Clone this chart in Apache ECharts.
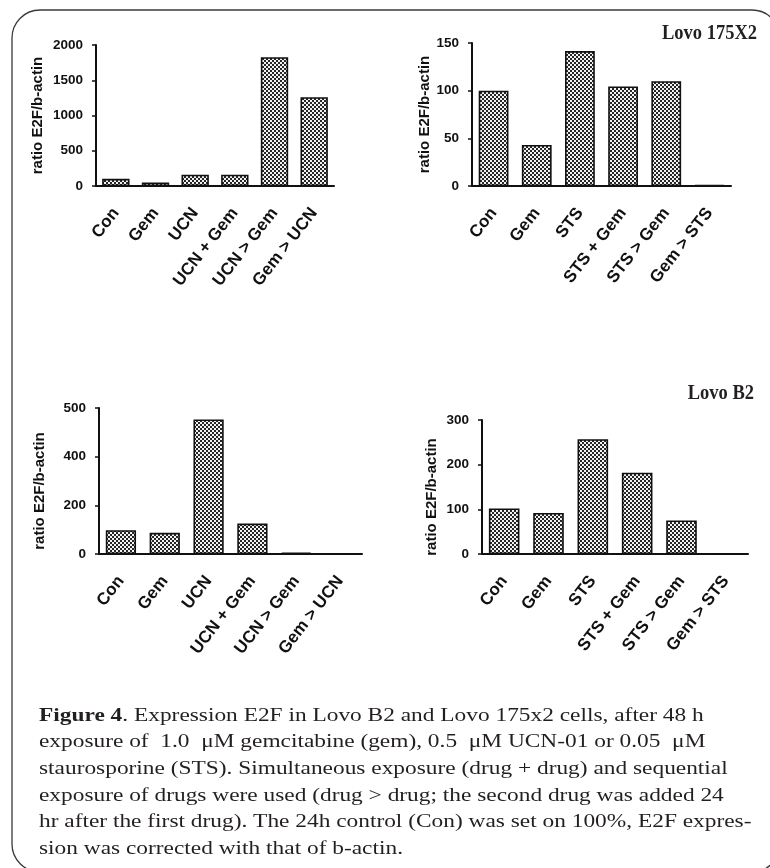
<!DOCTYPE html>
<html><head><meta charset="utf-8">
<script src="https://cdn.jsdelivr.net/npm/echarts@6/dist/echarts.min.js"></script>
<style>html,body{margin:0;padding:0;background:#fff}#c{width:770px;height:868px}</style>
</head><body><div id="c"></div>
<script>
// ---- data ----
const catsUCN = ['Con', 'Gem', 'UCN', 'UCN + Gem', 'UCN > Gem', 'Gem > UCN'];
const catsSTS = ['Con', 'Gem', 'STS', 'STS + Gem', 'STS > Gem', 'Gem > STS'];
const valsTL = [102, 50, 160, 160, 1826, 1260];
const valsTR = [100, 43, 141.5, 104.5, 110, 1];
const valsBL = [98, 87, 553, 125, 5, 2];
const valsBR = [102, 92, 257, 182, 75, 1];
const ticksTL = [0, 500, 1000, 1500, 2000];
const ticksTR = [0, 50, 100, 150];
const ticksBL = [0, 200, 400, 600];
const tickLabelsBL = ['0', '200', '400', '500'];
const ticksBR = [0, 100, 200, 300];
const yName = 'ratio E2F/b-actin';
const titleTop = 'Lovo 175X2';
const titleBottom = 'Lovo B2';
const captionLines = [
  '{b|Figure 4}. Expression E2F in Lovo B2 and Lovo 175x2 cells, after 48 h',
  'exposure of  1.0  \u03bcM gemcitabine (gem), 0.5  \u03bcM UCN-01 or 0.05  \u03bcM',
  'staurosporine (STS). Simultaneous exposure (drug + drug) and sequential',
  'exposure of drugs were used (drug > drug; the second drug was added 24',
  'hr after the first drug). The 24h control (Con) was set on 100%, E2F expres-',
  'sion was corrected with that of b-actin.'
];

// ---- pattern ----
const pc = document.createElement('canvas');
pc.width = 4; pc.height = 4;
const px = pc.getContext('2d');
px.fillStyle = '#f2f2f2'; px.fillRect(0, 0, 4, 4);
px.fillStyle = '#262626'; px.fillRect(0, 0, 2, 2); px.fillRect(2, 2, 2, 2);
const pattern = { image: pc, repeat: 'repeat' };

// caption horizontal scale from measured width
const mc = document.createElement('canvas').getContext('2d');
const capFont = 18;
mc.font = capFont + 'px "Liberation Serif"';
const capScale = 364 / mc.measureText(captionLines[5]).width;

const grids = [
  { left: 96, top: 45, width: 238, height: 141 },
  { left: 472, top: 43, width: 259, height: 143 },
  { left: 99, top: 408, width: 263, height: 146 },
  { left: 482, top: 420, width: 266, height: 134 }
];
const setups = [
  { cats: catsUCN, vals: valsTL, ticks: ticksTL, labels: null, gap: 51, pad: 0 },
  { cats: catsSTS, vals: valsTR, ticks: ticksTR, labels: null, gap: 38, pad: 0 },
  { cats: catsUCN, vals: valsBL, ticks: ticksBL, labels: tickLabelsBL, gap: 52, pad: 20 },
  { cats: catsSTS, vals: valsBR, ticks: ticksBR, labels: null, gap: 43, pad: 20 }
];
const xAxes = [], yAxes = [], series = [];
setups.forEach((s, i) => {
  xAxes.push({
    type: 'category', gridIndex: i, data: s.cats,
    axisLine: { lineStyle: { color: '#111', width: 2 } },
    axisTick: { alignWithLabel: true, length: 5, lineStyle: { color: '#111', width: 1.5 } },
    axisLabel: { interval: 0, rotate: 52, margin: 24, color: '#111', fontFamily: 'Liberation Sans', fontWeight: 'bold', fontSize: 17 }
  });
  const tk = s.ticks;
  yAxes.push({
    type: 'value', gridIndex: i, min: tk[0], max: tk[tk.length - 1], interval: tk[1] - tk[0],
    name: yName, nameLocation: 'middle', nameGap: s.gap,
    nameTextStyle: { color: '#111', fontFamily: 'Liberation Sans', fontWeight: 'bold', fontSize: 15, padding: [0, s.pad, 0, 0] },
    axisLine: { show: true, lineStyle: { color: '#111', width: 2 } },
    axisTick: { show: true, length: 4, lineStyle: { color: '#111', width: 1.5 } },
    splitLine: { show: false },
    axisLabel: {
      margin: 13, color: '#111', fontFamily: 'Liberation Sans', fontWeight: 'bold', fontSize: 13.5,
      formatter: v => s.labels ? s.labels[tk.indexOf(v)] : String(v)
    }
  });
  series.push({
    type: 'bar', xAxisIndex: i, yAxisIndex: i, data: s.vals, barWidth: '69%',
    itemStyle: { color: pattern, borderColor: '#111', borderWidth: 1.6 },
    silent: true
  });
});

const graphics = [
  { type: 'rect', shape: { x: 12, y: 10, width: 768, height: 862, r: 28 },
    style: { fill: 'none', stroke: '#3a3a3a', lineWidth: 1.3 }, silent: true },
  { type: 'text', x: 757, y: 33, scaleX: 0.86,
    style: { text: titleTop, fontFamily: 'Liberation Serif', fontWeight: 'bold', fontSize: 21.5, fill: '#231f20', textAlign: 'right', textVerticalAlign: 'middle' } },
  { type: 'text', x: 754, y: 393, scaleX: 0.86,
    style: { text: titleBottom, fontFamily: 'Liberation Serif', fontWeight: 'bold', fontSize: 21.5, fill: '#231f20', textAlign: 'right', textVerticalAlign: 'middle' } }
];
const capY0 = 716, capDY = 26.6;
captionLines.forEach((t, i) => {
  graphics.push({
    type: 'text', x: 39, y: capY0 + i * capDY, scaleX: capScale,
    style: {
      text: t, fontFamily: 'Liberation Serif', fontSize: capFont, fill: '#231f20',
      textAlign: 'left', textVerticalAlign: 'middle',
      rich: { b: { fontFamily: 'Liberation Serif', fontWeight: 'bold', fontSize: capFont, fill: '#231f20' } }
    }
  });
});

const chart = echarts.init(document.getElementById('c'), null, { renderer: 'canvas' });
chart.setOption({
  animation: false,
  backgroundColor: '#fff',
  grid: grids,
  xAxis: xAxes,
  yAxis: yAxes,
  series: series,
  graphic: graphics
});
</script></body></html>
